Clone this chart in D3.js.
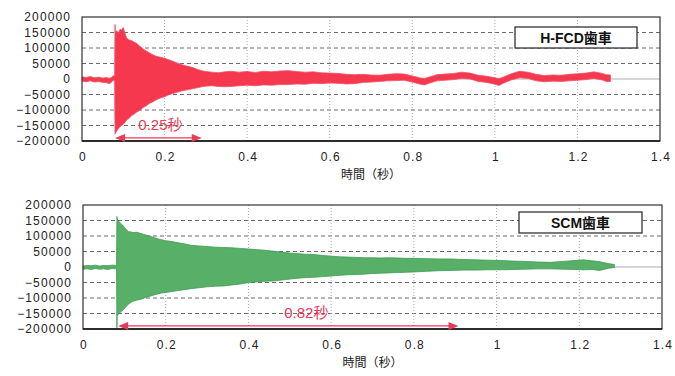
<!DOCTYPE html>
<html>
<head>
<meta charset="utf-8">
<script src="https://cdn.jsdelivr.net/npm/d3@7"></script>
<style>
	body { margin: 0; background: #fff; }
	svg { display: block; }
	.tick-label { font-family: "Liberation Sans", Arial, sans-serif; font-size: 12px; fill: #222; letter-spacing: 1.1px; }
	.axis-title { font-family: "Noto Sans CJK JP", sans-serif; font-size: 12px; fill: #222; }
	.legend-text { font-family: "Liberation Sans", "Noto Sans CJK JP", sans-serif; font-size: 14px; font-weight: bold; fill: #111; }
	.note { font-family: "Liberation Sans", "Noto Sans CJK JP", sans-serif; font-size: 15px; }
</style>
</head>
<body>
<svg id="chart" width="675" height="376"></svg>
<script>
// ticks
const xTicks = [0, 0.2, 0.4, 0.6, 0.8, 1, 1.2, 1.4]
const yTicks = [200000, 150000, 100000, 50000, 0, -50000, -100000, -150000, -200000]

// H-FCD gear: time (s), upper and lower envelope of the waveform
const fcdTime = [0, 0.01, 0.02, 0.03, 0.04, 0.05, 0.06, 0.065, 0.07, 0.075, 0.079,
	0.080, 0.0805, 0.084, 0.088, 0.092, 0.096, 0.100, 0.104, 0.108, 0.114, 0.120, 0.126, 0.132,
	0.140, 0.148, 0.156, 0.164, 0.172, 0.180, 0.190, 0.200, 0.210, 0.220, 0.230, 0.240, 0.250,
	0.260, 0.270, 0.280, 0.290, 0.300, 0.315, 0.330, 0.345, 0.36, 0.38, 0.40, 0.42, 0.44, 0.46,
	0.48, 0.50, 0.52, 0.54, 0.56, 0.58, 0.60, 0.62, 0.64, 0.66, 0.68, 0.70, 0.72, 0.74, 0.76,
	0.78, 0.80, 0.82, 0.83, 0.84, 0.86, 0.88, 0.90, 0.92, 0.94, 0.96, 0.98, 1.00, 1.01, 1.02,
	1.04, 1.06, 1.08, 1.10, 1.12, 1.14, 1.16, 1.18, 1.20, 1.22, 1.24, 1.26, 1.27, 1.28]
const fcdHigh = [7000, 5000, 8000, 4000, 6000, 3000, 5000, 2000, 4000, 10000, 11000,
	176000, 150000, 156000, 148000, 160000, 158000, 166000, 148000, 132000, 126000, 124000, 119000, 115000,
	106000, 97000, 90000, 84000, 78000, 73000, 70000, 67000, 62000, 57000, 52000, 47000, 43000,
	40000, 36000, 31000, 27000, 24000, 22000, 20000, 23000, 25000, 22000, 24000, 21000, 25000, 23000,
	26000, 27000, 24000, 22000, 23000, 20000, 19000, 18000, 15000, 14000, 15000, 13000, 12000, 15000, 17000,
	16000, 10000, 3000, 2000, 6000, 14000, 16000, 18000, 22000, 19000, 12000, 9000, 4000, 1000, 6000,
	17000, 25000, 22000, 15000, 11000, 13000, 12000, 15000, 17000, 19000, 23000, 18000, 14000, 13000]
const fcdLow = [-7000, -9000, -6000, -10000, -8000, -11000, -12000, -15000, -12000, -5000, -4000,
	-178000, -176000, -168000, -160000, -154000, -150000, -146000, -140000, -132000, -127000, -118000, -114000, -107000,
	-101000, -92000, -86000, -78000, -73000, -67000, -61000, -57000, -51000, -47000, -43000, -39000, -36000,
	-34000, -31000, -28000, -25000, -23000, -22000, -24000, -25000, -24000, -22000, -20000, -22000, -19000, -20000,
	-18000, -18000, -16000, -17000, -14000, -15000, -13000, -14000, -16000, -15000, -11000, -10000, -8000, -6000, -5000,
	-4000, -10000, -17000, -19000, -14000, -6000, -4000, -2000, 2000, 0, -8000, -11000, -17000, -21000, -14000,
	-3000, 4000, 2000, -6000, -9000, -7000, -8000, -6000, -4000, -2000, 2000, -3000, -8000, -8000]

// SCM gear
const scmTime = [0, 0.01, 0.02, 0.03, 0.04, 0.05, 0.06, 0.07, 0.081,
	0.082, 0.0825, 0.086, 0.090, 0.095, 0.100, 0.105, 0.110, 0.116, 0.122, 0.130, 0.140, 0.150,
	0.160, 0.170, 0.180, 0.190, 0.200, 0.215, 0.230, 0.245, 0.260, 0.28, 0.30, 0.32, 0.34, 0.36,
	0.38, 0.40, 0.42, 0.44, 0.46, 0.48, 0.50, 0.52, 0.54, 0.56, 0.58, 0.60, 0.62, 0.64, 0.66,
	0.68, 0.70, 0.72, 0.74, 0.76, 0.78, 0.80, 0.83, 0.86, 0.89, 0.92, 0.95, 0.98, 1.01, 1.04,
	1.07, 1.10, 1.13, 1.16, 1.19, 1.21, 1.23, 1.25, 1.27, 1.285]
const scmHigh = [3000, 5000, 4000, 6000, 3000, 5000, 4000, 6000, 5000,
	163000, 155000, 148000, 142000, 136000, 128000, 120000, 114000, 113000, 111000, 112000, 108000, 104000,
	100000, 96000, 91000, 88000, 85000, 82000, 78000, 75000, 70000, 68000, 66000, 64000, 63000, 62000,
	60000, 58000, 56000, 54000, 51000, 48000, 45000, 43000, 41000, 40000, 37000, 35000, 33000, 32000, 31000,
	30000, 30000, 29000, 30000, 29000, 28000, 28000, 27000, 26000, 26000, 24000, 23000, 22000, 21000, 19000,
	18000, 16000, 15000, 18000, 21000, 23000, 20000, 17000, 11000, 8000]
const scmLow = [-7000, -6000, -8000, -5000, -7000, -6000, -8000, -5000, -6000,
	-196000, -160000, -150000, -147000, -140000, -134000, -126000, -120000, -114000, -110000, -107000, -104000, -99000,
	-95000, -91000, -87000, -84000, -82000, -79000, -76000, -73000, -70000, -67000, -64000, -62000, -61000, -58000,
	-55000, -50000, -48000, -46000, -45000, -42000, -39000, -36000, -34000, -33000, -31000, -29000, -27000, -25000, -24000,
	-23000, -21000, -20000, -19000, -18000, -17000, -16000, -14000, -12000, -11000, -10000, -10000, -9000, -9000, -8000,
	-7000, -6000, -6000, -7000, -8000, -9000, -8000, -11000, -4000, -2000]

const zip = (t, hi, lo) => t.map((d, i) => ({ t: d, hi: hi[i], lo: lo[i] }))

const panels = [
	{ top: 17, bottom: 141, left: 82, right: 660, data: zip(fcdTime, fcdHigh, fcdLow),
		fill: '#f6384f', edge: '#f0506a', legend: 'H-FCD歯車', legendBox: [515, 27, 122, 21],
		note: '0.25秒', noteSpan: [0.08, 0.29], noteY: -190000, noteTextX: 0.19, noteTextY: -165000, noteColor: '#ee3a55',
		titleY: 179 },
	{ top: 205, bottom: 329, left: 83, right: 662, data: zip(scmTime, scmHigh, scmLow),
		fill: '#58b068', edge: '#3f9a52', legend: 'SCM歯車', legendBox: [519, 212, 123, 21],
		note: '0.82秒', noteSpan: [0.085, 0.908], noteY: -190000, noteTextX: 0.54, noteTextY: -165000, noteColor: '#e8385a',
		titleY: 367 }
]

const svg = d3.select('#chart')

function drawPanel(p) {
	const x = d3.scaleLinear().domain([0, 1.4]).range([p.left, p.right])
	const y = d3.scaleLinear().domain([-200000, 200000]).range([p.bottom, p.top])
	const g = svg.append('g')

	// grid
	g.selectAll('.hgrid')
		.data(yTicks.filter(v => Math.abs(v) < 200000 && v !== 0))
		.join('line')
		.attr('x1', p.left).attr('x2', p.right)
		.attr('y1', d => y(d)).attr('y2', d => y(d))
		.attr('stroke', '#444').attr('stroke-width', 0.8)
		.attr('stroke-dasharray', '4,3')
	g.selectAll('.vgrid')
		.data(xTicks.filter(v => v > 0 && v < 1.4))
		.join('line')
		.attr('x1', d => x(d)).attr('x2', d => x(d))
		.attr('y1', p.top).attr('y2', p.bottom)
		.attr('stroke', '#aaa').attr('stroke-width', 1)
		.attr('stroke-dasharray', '1,2')
	g.append('line')
		.attr('x1', p.left).attr('x2', p.right)
		.attr('y1', y(0)).attr('y2', y(0))
		.attr('stroke', '#999').attr('stroke-width', 0.8)

	// waveform envelope
	const area = d3.area()
		.x(d => x(d.t))
		.y0(d => y(d.lo))
		.y1(d => y(d.hi))
	g.append('path')
		.datum(p.data)
		.attr('d', area)
		.attr('fill', p.fill)
		.attr('stroke', p.edge)
		.attr('stroke-width', 0.8)
		.attr('stroke-linejoin', 'miter')

	// frame
	g.append('rect')
		.attr('x', p.left).attr('y', p.top)
		.attr('width', p.right - p.left).attr('height', p.bottom - p.top)
		.attr('fill', 'none').attr('stroke', '#333').attr('stroke-width', 1.2)
	g.append('line')
		.attr('x1', p.left).attr('x2', p.right)
		.attr('y1', p.bottom).attr('y2', p.bottom)
		.attr('stroke', '#111').attr('stroke-width', 1.6)

	// tick labels
	g.selectAll('.ylab')
		.data(yTicks)
		.join('text')
		.attr('class', 'tick-label')
		.attr('x', p.left - 11)
		.attr('y', d => y(d) + 4)
		.attr('text-anchor', 'end')
		.text(d => d < 0 ? '−' + Math.abs(d) : d)
	g.selectAll('.xlab')
		.data(xTicks)
		.join('text')
		.attr('class', 'tick-label')
		.attr('x', d => x(d) + 1)
		.attr('y', p.bottom + 20)
		.attr('text-anchor', 'middle')
		.text(d => d)
	g.append('text')
		.attr('class', 'axis-title')
		.attr('x', (p.left + p.right) / 2)
		.attr('y', p.titleY)
		.attr('text-anchor', 'middle')
		.text('時間（秒）')

	// legend box
	const [bx, by, bw, bh] = p.legendBox
	g.append('rect')
		.attr('x', bx).attr('y', by).attr('width', bw).attr('height', bh)
		.attr('fill', '#fff').attr('stroke', '#222').attr('stroke-width', 1.2)
	g.append('text')
		.attr('class', 'legend-text')
		.attr('x', bx + bw / 2).attr('y', by + bh / 2 + 5)
		.attr('text-anchor', 'middle')
		.text(p.legend)

	// duration annotation
	const x0 = x(p.noteSpan[0]), x1 = x(p.noteSpan[1]), ay = y(p.noteY)
	g.append('line')
		.attr('x1', x0 + 6).attr('x2', x1 - 6)
		.attr('y1', ay).attr('y2', ay)
		.attr('stroke', p.noteColor).attr('stroke-width', 1.2)
	g.append('path')
		.attr('d', `M${x0},${ay} l10,-4 l0,8 Z M${x1},${ay} l-10,-4 l0,8 Z`)
		.attr('fill', p.noteColor)
	g.append('text')
		.attr('class', 'note')
		.attr('x', x(p.noteTextX)).attr('y', y(p.noteTextY))
		.attr('text-anchor', 'middle')
		.attr('fill', p.noteColor)
		.text(p.note)
}

panels.forEach(drawPanel)
</script>
</body>
</html>
